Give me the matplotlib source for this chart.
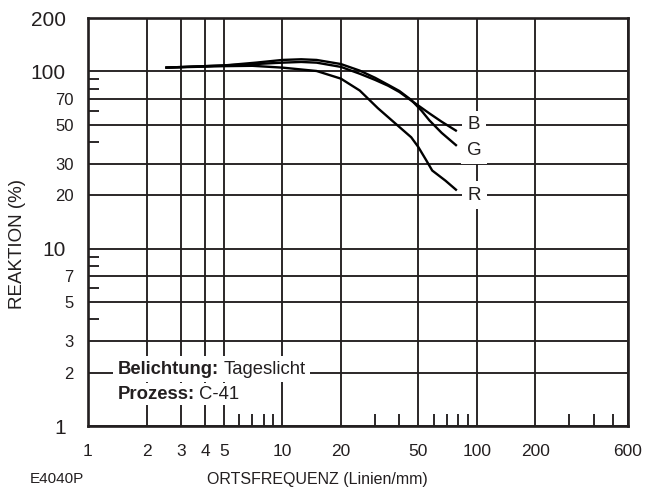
import matplotlib
matplotlib.use("Agg")
import matplotlib.pyplot as plt
from matplotlib.ticker import FixedLocator, FixedFormatter, NullFormatter
from matplotlib.offsetbox import TextArea, HPacker, AnnotationBbox

plt.rcParams["font.family"] = ["Liberation Sans", "DejaVu Sans"]

INK = "#231f20"

# Modulation transfer data: spatial frequency (lines/mm) vs. response (%)
freq_b = [2.5, 5, 7.3, 10, 12.5, 15, 20, 25, 30, 35, 40, 46, 57, 66, 79]
resp_b = [105, 108, 110, 112, 113, 112, 106, 97, 89.5, 83, 76.5, 68.5, 58, 52, 46]
freq_g = [2.5, 5, 7.3, 10, 12.5, 15, 20, 25, 30, 35, 40, 46, 52, 57, 66, 79]
resp_g = [105, 108, 112, 116, 117, 116, 110, 101, 92, 84, 77.5, 69, 60, 53, 45, 38]
freq_r = [2.5, 5, 7, 10, 15, 20, 25, 31, 38, 46, 50, 55, 59, 69, 79]
resp_r = [105, 107, 107.5, 105, 100.5, 91, 78, 62, 51, 42.5, 37.5, 31.5, 27.6, 24.2, 21.3]

curve_names = ["B", "G", "R"]
label_x = 97
label_y = [50, 36, 20]

x_major = [1, 2, 3, 4, 5, 10, 20, 50, 100, 200, 600]
x_labels = ["1", "2", "3", "4", "5", "10", "20", "50", "100", "200", "600"]
x_minor = [6, 7, 8, 9, 30, 40, 60, 70, 80, 90, 300, 400, 500]
y_major = [1, 2, 3, 5, 7, 10, 20, 30, 50, 70, 100, 200]
y_labels = ["1", "2", "3", "5", "7", "10", "20", "30", "50", "70", "100", "200"]
y_minor = [4, 6, 8, 9, 40, 60, 80, 90]
y_large = ["1", "10", "100", "200"]

fig = plt.figure(figsize=(6.56, 4.94), dpi=100)
ax = fig.add_axes([88 / 656, 68 / 494, 540 / 656, 408 / 494])
ax.set_xscale("log")
ax.set_yscale("log")
ax.set_xlim(1, 600)
ax.set_ylim(1, 200)

ax.xaxis.set_major_locator(FixedLocator(x_major))
ax.xaxis.set_major_formatter(FixedFormatter(x_labels))
ax.xaxis.set_minor_locator(FixedLocator(x_minor))
ax.xaxis.set_minor_formatter(NullFormatter())
ax.yaxis.set_major_locator(FixedLocator(y_major))
ax.yaxis.set_major_formatter(FixedFormatter(y_labels))
ax.yaxis.set_minor_locator(FixedLocator(y_minor))
ax.yaxis.set_minor_formatter(NullFormatter())

ax.grid(True, which="major", color=INK, lw=1.35)
ax.tick_params(which="major", length=0, colors=INK)
ax.tick_params(axis="x", which="major", labelsize=12.5, pad=13)
ax.tick_params(which="minor", direction="in", width=1.35, color=INK)
ax.tick_params(axis="x", which="minor", length=8.6)
ax.tick_params(axis="y", which="minor", length=7.7)
for sp in ax.spines.values():
    sp.set_linewidth(1.9)
    sp.set_color(INK)

for tick, lab in zip(ax.yaxis.get_major_ticks(), y_labels):
    if lab in y_large:
        tick.label1.set_fontsize(15)
        tick.set_pad(16)
    else:
        tick.label1.set_fontsize(12)
        tick.set_pad(10.5)

for fx, ry in [(freq_b, resp_b), (freq_g, resp_g), (freq_r, resp_r)]:
    ax.plot(fx, ry, color="black", lw=1.7, solid_joinstyle="round",
            solid_capstyle="butt", zorder=2.2)

for name, ly in zip(curve_names, label_y):
    ax.text(label_x, ly, name, fontsize=13.5, color=INK, ha="center",
            va="center", zorder=4,
            bbox=dict(boxstyle="square,pad=0.3", fc="white", ec="none"))


def info_box(key, value, yfrac, pad):
    pack = HPacker(children=[
        TextArea(key, textprops=dict(fontsize=13.3, fontweight="bold", color=INK)),
        TextArea(value, textprops=dict(fontsize=13.3, color=INK)),
    ], sep=3, pad=0, align="baseline")
    ab = AnnotationBbox(pack, (30 / 540, yfrac), xycoords="axes fraction",
                        box_alignment=(0, 0.5), frameon=True, pad=pad,
                        bboxprops=dict(fc="white", ec="none"), zorder=4)
    ax.add_artist(ab)


info_box("Belichtung:", "Tageslicht", 57 / 408, 0.35)
info_box("Prozess:", "C-41", 32 / 408, 0.15)

fig.text(57 / 656, 1 - 479 / 494, "E4040P", fontsize=11, color=INK,
         ha="center", va="center")
fig.text(317 / 656, 1 - 479 / 494, "ORTSFREQUENZ (Linien/mm)", fontsize=11.5,
         color=INK, ha="center", va="center")
fig.text(18 / 656, 1 - 244 / 494, "REAKTION (%)", fontsize=13.5, color=INK,
         ha="center", va="center", rotation=90)

fig.savefig("out.png", dpi=100)
